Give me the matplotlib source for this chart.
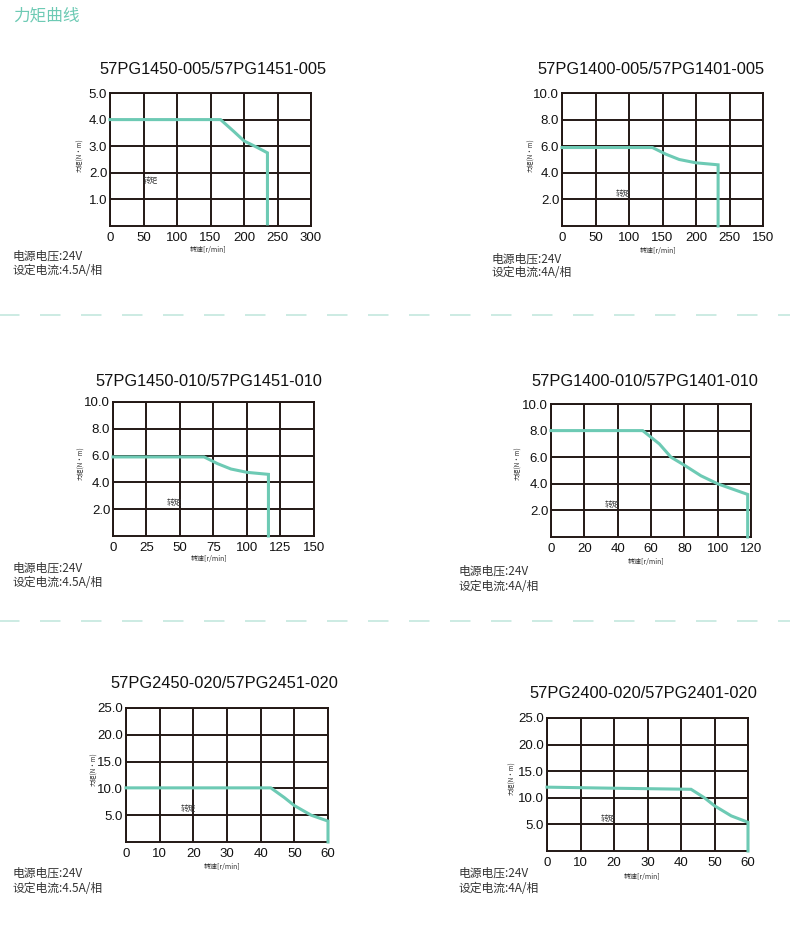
import matplotlib
matplotlib.use('Agg')
import matplotlib.pyplot as plt
import numpy as np

plt.rcParams['font.family'] = ['Liberation Sans', 'Noto Sans CJK SC', 'DejaVu Sans']
plt.rcParams['axes.unicode_minus'] = False

W, H = 800, 932
teal = '#6dcab4'
dark = '#231815'

# chart data (speed r/min, torque N·m)
titles = ['57PG1450-005/57PG1451-005', '57PG1400-005/57PG1401-005',
          '57PG1450-010/57PG1451-010', '57PG1400-010/57PG1401-010',
          '57PG2450-020/57PG2451-020', '57PG2400-020/57PG2401-020']
currents = ['4.5A', '4A', '4.5A', '4A', '4.5A', '4A']

speed_1 = [0, 165, 185, 200, 220, 235, 235]
torque_1 = [4.0, 4.0, 3.55, 3.2, 2.95, 2.75, 0.08]
speed_2 = [0, 135, 155, 175, 200, 233, 233]
torque_2 = [5.9, 5.9, 5.4, 5.0, 4.75, 4.6, 0.0]
speed_3 = [0, 68, 78, 88, 100, 116, 116]
torque_3 = [5.9, 5.9, 5.4, 5.0, 4.75, 4.6, 0.0]
speed_4 = [0, 55, 65, 72, 80, 90, 100, 118, 118]
torque_4 = [8.0, 8.0, 7.0, 6.0, 5.4, 4.6, 4.0, 3.2, 0.0]
speed_5 = [0, 43, 47, 50, 55, 60, 60]
torque_5 = [10.1, 10.1, 8.3, 6.8, 5.0, 3.9, 0.0]
speed_6 = [0, 20, 43, 47, 50, 55, 60, 60]
torque_6 = [12.0, 11.8, 11.6, 10.0, 8.5, 6.6, 5.4, 0.0]

xticks_1 = [0, 50, 100, 150, 200, 250, 300]
xlabels_1 = ['0', '50', '100', '150', '200', '250', '300']
xlabels_2 = ['0', '50', '100', '150', '200', '250', '150']
xticks_3 = [0, 25, 50, 75, 100, 125, 150]
xticks_4 = [0, 20, 40, 60, 80, 100, 120]
xticks_5 = [0, 10, 20, 30, 40, 50, 60]
yticks_1 = [1.0, 2.0, 3.0, 4.0, 5.0]
yticks_2 = [2.0, 4.0, 6.0, 8.0, 10.0]
yticks_5 = [5.0, 10.0, 15.0, 20.0, 25.0]

charts = [
    (speed_1, torque_1, xticks_1, xlabels_1, yticks_1, 5.0),
    (speed_2, torque_2, xticks_1, xlabels_2, yticks_2, 10.0),
    (speed_3, torque_3, xticks_3, [str(v) for v in xticks_3], yticks_2, 10.0),
    (speed_4, torque_4, xticks_4, [str(v) for v in xticks_4], yticks_2, 10.0),
    (speed_5, torque_5, xticks_5, [str(v) for v in xticks_5], yticks_5, 25.0),
    (speed_6, torque_6, xticks_5, [str(v) for v in xticks_5], yticks_5, 25.0),
]

# layout in pixels: axes box (left, top, right, bottom), title, ylabel, xlabel, 转矩, notes
boxes = [(110, 93, 311, 226), (562, 93, 763, 226), (113, 402, 314, 536),
         (551, 404, 751, 537), (126, 708, 328, 842), (547, 718, 748, 851)]
title_pos = [(213, 70), (651, 69), (209, 382), (645, 382), (224, 684), (643, 694)]
ylab_pos = [(80, 155), (531, 155), (81, 463), (518, 463), (94, 769), (512, 778)]
xlab_pos = [(208, 250), (658, 251), (209, 559), (646, 562), (222, 867), (642, 877)]
label_pos = [(150, 181), (623, 194), (174, 503), (612, 505), (188, 809), (608, 819)]
note_pos = [(13, 256, 270), (492, 259, 272), (13, 568, 582),
            (459, 571, 587), (13, 873, 889), (459, 873, 888)]

fig = plt.figure(figsize=(W / 100, H / 100), dpi=100)

def fx(x):
    return x / W

def fy(y):
    return 1 - y / H

fig.text(fx(13), fy(16), '力矩曲线', color=teal, fontsize=12, va='center', ha='left',
         family=['Noto Sans CJK SC'])

# dashed separators
for yy in [315, 621]:
    fig.add_artist(plt.Line2D([fx(-3), fx(790)], [fy(yy), fy(yy)], color='#c4e8de',
                              lw=1.2, ls=(0, (12.3, 12.3)), transform=fig.transFigure))

for i, (sx, ty, xt, xl, yt, ymax) in enumerate(charts):
    l, t, r, b = boxes[i]
    ax = fig.add_axes([fx(l), fy(b), (r - l) / W, (b - t) / H])
    ax.set_xlim(xt[0], xt[-1])
    ax.set_ylim(0, ymax)
    ax.set_xticks(xt)
    ax.set_xticklabels(xl)
    ax.set_yticks(yt)
    ax.set_yticklabels(['%.1f' % v for v in yt])
    ax.grid(True, color=dark, lw=1.4)
    ax.set_axisbelow(True)
    ax.tick_params(length=0, labelsize=9.5, colors='#111111')
    ax.tick_params(axis='y', pad=2)
    ax.tick_params(axis='x', pad=4)
    for sp in ax.spines.values():
        sp.set_color(dark)
        sp.set_linewidth(1.4)
    ax.plot(sx, ty, color=teal, lw=2.2, solid_joinstyle='miter', zorder=3, clip_on=False)

    fig.text(fx(title_pos[i][0]), fy(title_pos[i][1]), titles[i], fontsize=11.8,
             ha='center', va='center', color='#111111')
    fig.text(fx(ylab_pos[i][0]), fy(ylab_pos[i][1]), '力矩(N·m)', fontsize=4.5,
             rotation=90, ha='center', va='center', color='#333333',
             family=['Noto Sans CJK SC', 'DejaVu Sans'])
    fig.text(fx(xlab_pos[i][0]), fy(xlab_pos[i][1]), '转速[r/min]', fontsize=5,
             ha='center', va='center', color='#333333',
             family=['Noto Sans CJK SC', 'DejaVu Sans'])
    fig.text(fx(label_pos[i][0]), fy(label_pos[i][1]), '转矩', fontsize=5.5,
             ha='center', va='center', color='#333333',
             family=['Noto Sans CJK SC'])
    nx, ny1, ny2 = note_pos[i]
    fig.text(fx(nx), fy(ny1), '电源电压:24V', fontsize=8.5, ha='left', va='center',
             color='#333333', family=['Noto Sans CJK SC', 'DejaVu Sans'])
    fig.text(fx(nx), fy(ny2), '设定电流:' + currents[i] + '/相', fontsize=8.5, ha='left',
             va='center', color='#333333', family=['Noto Sans CJK SC', 'DejaVu Sans'])

fig.savefig('out.png', dpi=100, facecolor='white')
